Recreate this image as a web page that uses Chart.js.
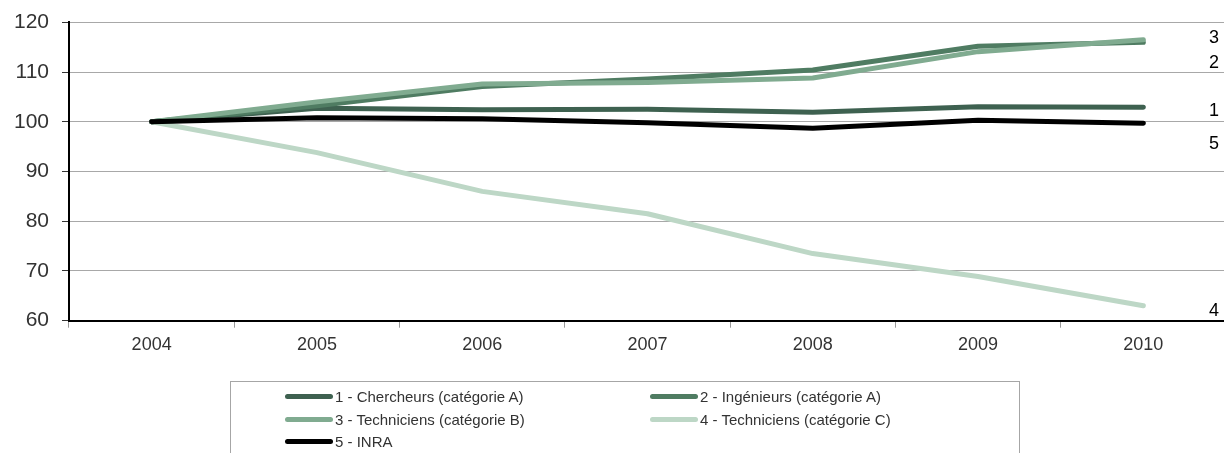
<!DOCTYPE html>
<html>
<head>
<meta charset="utf-8">
<script src="https://cdn.jsdelivr.net/npm/chart.js@4/dist/chart.umd.min.js"></script>
<style>
  html, body { margin: 0; padding: 0; background: #fff; overflow: hidden; }
  #wrap { position: relative; width: 1227px; height: 453px; }
  #legend { position: absolute; left: 230px; top: 381px; width: 790px; height: 90px;
            border: 1px solid #a6a6a6; box-sizing: border-box; font-family: "Liberation Sans", Arial, sans-serif;
            font-size: 15px; color: #333; }
  .item { position: absolute; display: flex; align-items: center; height: 20px; }
  .sw { width: 48px; height: 5px; border-radius: 3px; margin-right: 2px; }
</style>
</head>
<body>
<div id="wrap">
  <canvas id="c"></canvas>
  <div id="legend"></div>
</div>
<script>
const years = ['2004', '2005', '2006', '2007', '2008', '2009', '2010'];
const seriesNames = [
  '1 - Chercheurs (catégorie A)',
  '2 - Ingénieurs (catégorie A)',
  '3 - Techniciens (catégorie B)',
  '4 - Techniciens (catégorie C)',
  '5 - INRA'
];
const chercheurs   = [100, 102.7, 102.4, 102.5, 101.9, 103.0, 102.9];
const ingenieurs   = [100, 103.2, 107.1, 108.6, 110.4, 115.2, 116.0];
const techniciensB = [100, 104.0, 107.6, 107.9, 108.8, 114.1, 116.5];
const techniciensC = [100, 93.8, 86.0, 81.5, 73.5, 68.9, 63.0];
const inra         = [100, 100.8, 100.6, 99.8, 98.7, 100.3, 99.7];
const endLabels    = ['3', '2', '1', '5', '4'];
const endLabelPos  = [116.9, 111.9, 102.2, 95.6, 62.0];

const colors = ['#3e6150', '#4f7c62', '#80ab90', '#bdd7c6', '#000000'];
const values = [chercheurs, ingenieurs, techniciensB, techniciensC, inra];
const orders = [5, 4, 3, 6, 1];

const datasets = values.map((v, i) => ({
  label: seriesNames[i],
  data: v,
  borderColor: colors[i],
  backgroundColor: colors[i],
  borderWidth: 5,
  pointRadius: 0,
  pointHoverRadius: 0,
  tension: 0,
  fill: false,
  borderCapStyle: 'round',
  borderJoinStyle: 'round',
  order: orders[i]
}));

const endLabelPlugin = {
  id: 'endLabels',
  afterDatasetsDraw(chart) {
    const ctx = chart.ctx;
    const y = chart.scales.y;
    ctx.save();
    ctx.font = '18px "Liberation Sans", Arial, sans-serif';
    ctx.fillStyle = '#000';
    ctx.textAlign = 'center';
    ctx.textBaseline = 'middle';
    endLabels.forEach((t, i) => {
      ctx.fillText(t, 1214, y.getPixelForValue(endLabelPos[i]));
    });
    ctx.restore();
  }
};

new Chart(document.getElementById('c'), {
  type: 'line',
  data: { labels: years, datasets },
  plugins: [endLabelPlugin],
  options: {
    responsive: true,
    maintainAspectRatio: false,
    animation: false,
    events: [],
    layout: { padding: { top: 22.3, right: 1, bottom: 0, left: 0 } },
    plugins: { legend: { display: false }, tooltip: { enabled: false } },
    scales: {
      x: {
        offset: true,
        afterFit: s => { s.height = 132.3; s.paddingLeft = 0; s.paddingRight = 0; },
        grid: { offset: true, drawOnChartArea: false, drawTicks: true, tickLength: 7, tickColor: '#999', color: '#999' },
        border: { display: true, color: '#000', width: 2 },
        ticks: { color: '#333', font: { family: '"Liberation Sans", Arial, sans-serif', size: 18 }, padding: 7, maxRotation: 0 }
      },
      y: {
        min: 60, max: 120,
        afterFit: s => { s.width = 69; s.paddingTop = 0; s.paddingBottom = 0; },
        grid: { color: '#a8a8a8', lineWidth: 1, borderDash: [1, 1], tickLength: 7, tickColor: '#333', tickBorderDash: [] },
        border: { display: true, color: '#000', width: 2 },
        ticks: { stepSize: 10, color: '#333', font: { family: '"Liberation Sans", Arial, sans-serif', size: 21 }, padding: 13 }
      }
    }
  }
});

// HTML legend built from the series arrays
const leg = document.getElementById('legend');
const colX = [54, 419];
const rowY = [4, 27, 49];
seriesNames.forEach((name, i) => {
  const d = document.createElement('div');
  d.className = 'item';
  d.style.left = colX[i % 2] + 'px';
  d.style.top = rowY[Math.floor(i / 2)] + 'px';
  const sw = document.createElement('span');
  sw.className = 'sw';
  sw.style.background = colors[i];
  const tx = document.createElement('span');
  tx.textContent = name;
  d.appendChild(sw);
  d.appendChild(tx);
  leg.appendChild(d);
});
</script>
</body>
</html>
